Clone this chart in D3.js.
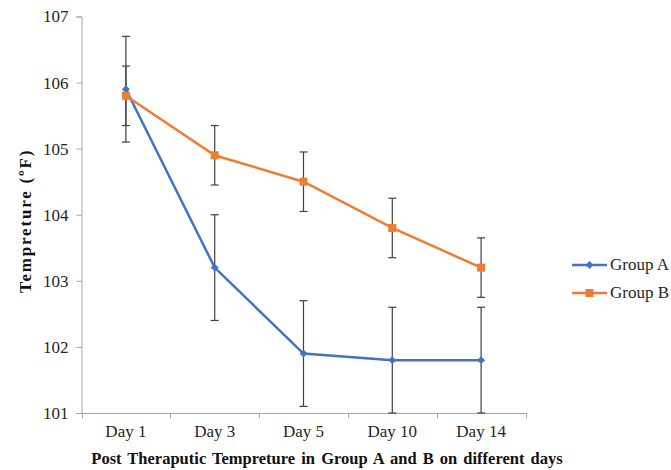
<!DOCTYPE html>
<html><head><meta charset="utf-8">
<script src="https://cdn.jsdelivr.net/npm/d3@7"></script>
<style>body{margin:0;background:#fff;} svg text{font-family:"Liberation Serif",serif !important;}</style>
</head><body>
<svg id="chart" width="671" height="470"></svg>
<script>
const days = ["Day 1","Day 3","Day 5","Day 10","Day 14"];
const groupA = [105.9,103.2,101.9,101.8,101.8];
const groupAErr = [0.8,0.8,0.8,0.8,0.8];
const groupB = [105.8,104.9,104.5,103.8,103.2];
const groupBErr = [0.45,0.45,0.45,0.45,0.45];
const yTicks = [101,102,103,104,105,106,107];
const seriesNames = ["Group A","Group B"];
const colors = ["#4472C4","#ED7D31"];
const FONT = "Liberation Serif";

const svg = d3.select("#chart");
const x = d3.scaleBand().domain(days).range([81.5,525.5]);
const y = d3.scaleLinear().domain([101,107]).range([413,16.5]);

const axisColor = "#a6a6a6";
const textColor = "#262626";
// y axis
const ya = svg.append("g").attr("transform","translate(81.5,0)")
  .call(d3.axisLeft(y).tickValues(yTicks).tickSize(5).tickPadding(8).tickFormat(d3.format("d")));
ya.attr("font-family",FONT);
ya.select(".domain").attr("stroke",axisColor);
ya.selectAll(".tick line").attr("stroke",axisColor);
ya.selectAll(".tick text").attr("font-size",17).attr("fill",textColor);

// x axis
const xa = svg.append("g").attr("transform","translate(0,413)")
  .call(d3.axisBottom(x).tickSize(0).tickPadding(12));
xa.attr("font-family",FONT);
xa.select(".domain").attr("stroke",axisColor);
xa.selectAll(".tick text").attr("font-size",17).attr("fill",textColor);
// boundary ticks
const bounds = days.map(d=>x(d)).concat([x.range()[1]]);
svg.append("g").selectAll("line").data(bounds).join("line")
  .attr("x1",d=>Math.round(d)+0.5).attr("x2",d=>Math.round(d)+0.5).attr("y1",413).attr("y2",418).attr("stroke",axisColor);

const cx = d => x(d)+x.bandwidth()/2;

// error bars
function errBars(vals, errs){
  const g = svg.append("g").attr("stroke","#404040").attr("stroke-width",1.2);
  vals.forEach((v,i)=>{
    const xc = cx(days[i]);
    g.append("line").attr("x1",xc).attr("x2",xc).attr("y1",y(v+errs[i])).attr("y2",y(v-errs[i]));
    g.append("line").attr("x1",xc-4).attr("x2",xc+4).attr("y1",y(v+errs[i])).attr("y2",y(v+errs[i]));
    g.append("line").attr("x1",xc-4).attr("x2",xc+4).attr("y1",y(v-errs[i])).attr("y2",y(v-errs[i]));
  });
}
errBars(groupA, groupAErr);
errBars(groupB, groupBErr);

const line = d3.line().x((d,i)=>cx(days[i])).y(d=>y(d));
[groupA, groupB].forEach((vals,k)=>{
  svg.append("path").datum(vals).attr("d",line).attr("fill","none").attr("stroke",colors[k]).attr("stroke-width",2.5);
});
// markers
svg.append("g").selectAll("path").data(groupA).join("path")
  .attr("transform",(d,i)=>`translate(${cx(days[i])},${y(d)})`)
  .attr("d",d3.symbol(d3.symbolDiamond2, 40)).attr("fill",colors[0]);
svg.append("g").selectAll("rect").data(groupB).join("rect")
  .attr("x",(d,i)=>cx(days[i])-4).attr("y",d=>y(d)-4).attr("width",8).attr("height",8).attr("fill",colors[1]);

// legend
const leg = svg.append("g").attr("font-family",FONT);
seriesNames.forEach((n,k)=>{
  const ly = 265 + k*28;
  leg.append("line").attr("x1",572).attr("x2",607).attr("y1",ly).attr("y2",ly).attr("stroke",colors[k]).attr("stroke-width",2.5);
  if(k===0) leg.append("path").attr("transform",`translate(589.5,${ly})`).attr("d",d3.symbol(d3.symbolDiamond2,40)).attr("fill",colors[k]);
  else leg.append("rect").attr("x",585.5).attr("y",ly-4).attr("width",8).attr("height",8).attr("fill",colors[k]);
  leg.append("text").attr("x",610).attr("y",ly+5).attr("font-size",17).attr("fill",textColor).text(n);
});

// titles
svg.append("text").attr("x",327).attr("y",464).attr("text-anchor","middle").attr("font-family",FONT).attr("font-size",16.5).attr("font-weight","bold").attr("fill","#111").attr("word-spacing","2px").text("Post Theraputic Tempreture in Group A and B on different days");
svg.append("text").attr("transform","translate(31,221) rotate(-90)").attr("text-anchor","middle").attr("font-family",FONT).attr("font-size",17).attr("font-weight","bold").attr("fill","#111").attr("letter-spacing","1.8px").text("Tempreture (ºF)");
</script>
</body></html>
